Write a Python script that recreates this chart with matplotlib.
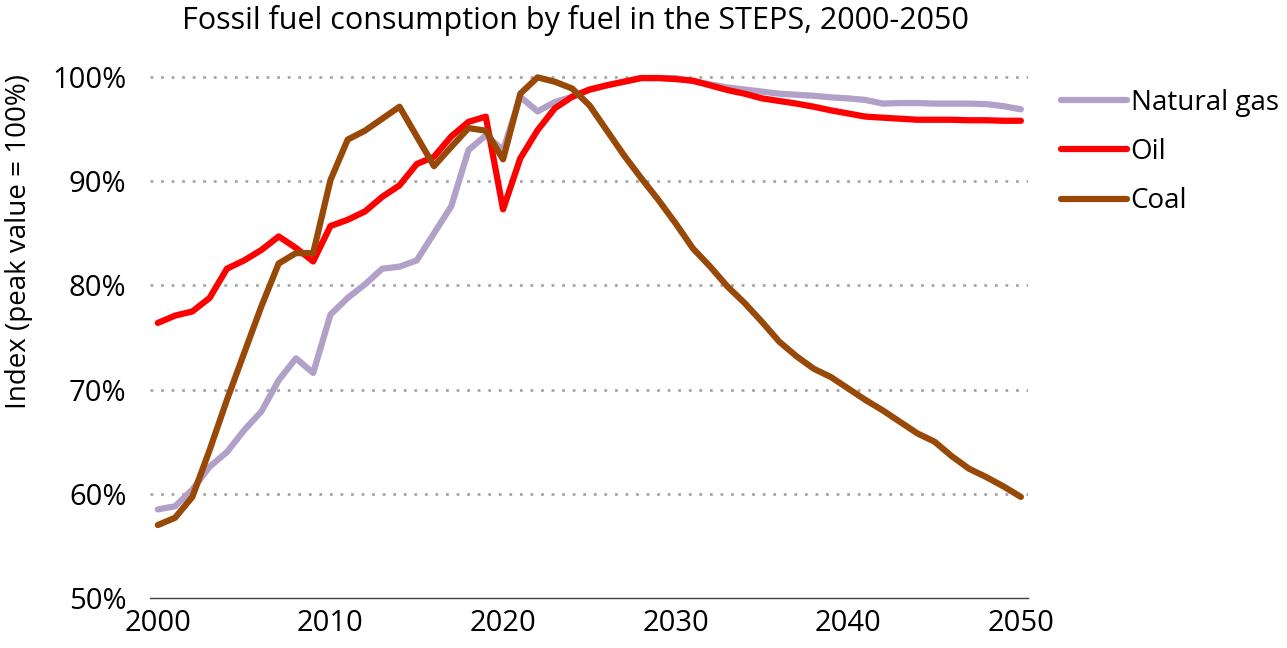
import matplotlib.pyplot as plt
from matplotlib.ticker import PercentFormatter

plt.rcParams['font.family'] = ['Open Sans', 'DejaVu Sans']

years = list(range(2000, 2051))

gas = [58.5, 58.8, 60.4, 62.6, 64.0, 66.1, 67.9, 70.9, 73.0, 71.6,
       77.2, 78.8, 80.1, 81.6, 81.8, 82.4, 85.0, 87.6, 93.0, 94.4,
       93.0, 98.1, 96.7, 97.6, 98.1, 98.75, 99.2, 99.55, 99.9, 99.9,
       99.9, 99.6, 99.3, 99.0, 98.8, 98.6, 98.4, 98.3, 98.2, 98.05,
       97.95, 97.8, 97.45, 97.5, 97.5, 97.45, 97.45, 97.45, 97.4, 97.2,
       96.9]

oil = [76.4, 77.1, 77.5, 78.8, 81.6, 82.4, 83.4, 84.7, 83.6, 82.3,
       85.7, 86.3, 87.1, 88.5, 89.6, 91.65, 92.35, 94.3, 95.7, 96.2,
       87.3, 92.2, 94.9, 97.0, 98.1, 98.8, 99.2, 99.55, 99.9, 99.9,
       99.8, 99.65, 99.2, 98.75, 98.4, 97.95, 97.7, 97.45, 97.15, 96.8,
       96.5, 96.2, 96.1, 96.0, 95.9, 95.9, 95.9, 95.85, 95.85, 95.8,
       95.8]

coal = [57.0, 57.7, 59.7, 64.2, 69.0, 73.5, 78.0, 82.1, 83.1, 83.1,
        90.1, 94.0, 94.85, 96.0, 97.15, 94.3, 91.45, 93.3, 95.1, 94.85,
        92.1, 98.4, 99.97, 99.55, 98.9, 97.3, 94.9, 92.5, 90.3, 88.2,
        85.95, 83.55, 81.8, 79.9, 78.3, 76.5, 74.6, 73.2, 72.0, 71.2,
        70.1, 69.0, 68.0, 66.9, 65.8, 65.0, 63.6, 62.4, 61.6, 60.7,
        59.7]

fig = plt.figure(figsize=(12.87, 6.48), dpi=100)
ax = fig.add_axes([0.1166, 0.0772, 0.682, 0.820])

ax.plot(years, gas, color='#B1A0C7', lw=4.5, label='Natural gas', solid_capstyle='round')
ax.plot(years, oil, color='#FF0000', lw=4.5, label='Oil', solid_capstyle='round')
ax.plot(years, coal, color='#984807', lw=4.5, label='Coal', solid_capstyle='round')

ax.set_xlim(1999.55, 2050.4)
ax.set_ylim(50, 101)
ax.set_xticks([2000, 2010, 2020, 2030, 2040, 2050])
ax.set_yticks([50, 60, 70, 80, 90, 100])
ax.yaxis.set_major_formatter(PercentFormatter(decimals=0))
for y in [60, 70, 80, 90, 100]:
    ax.axhline(y, color='#A6A6A6', lw=2, ls=(0, (1, 2.8)), zorder=0)
for name, s in ax.spines.items():
    s.set_visible(name == 'bottom')
ax.spines['bottom'].set_color('#404040')
ax.spines['bottom'].set_linewidth(1)
ax.tick_params(length=0, labelsize=21)
ax.tick_params(axis='y', pad=17)
ax.tick_params(axis='x', pad=8)
ax.set_ylabel('Index (peak value = 100%)', fontsize=20)
ax.yaxis.set_label_coords(-0.133, 0.67)
fig.text(575.5 / 1287, 1 - 21 / 648, 'Fossil fuel consumption by fuel in the STEPS, 2000-2050',
         fontsize=22, ha='center', va='center')
ax.legend(loc='upper left', bbox_to_anchor=(1.0096, 1.0057), frameon=False, fontsize=20,
          handlelength=2.35, handletextpad=0.15, labelspacing=0.77)

fig.savefig('out.png', dpi=100)
